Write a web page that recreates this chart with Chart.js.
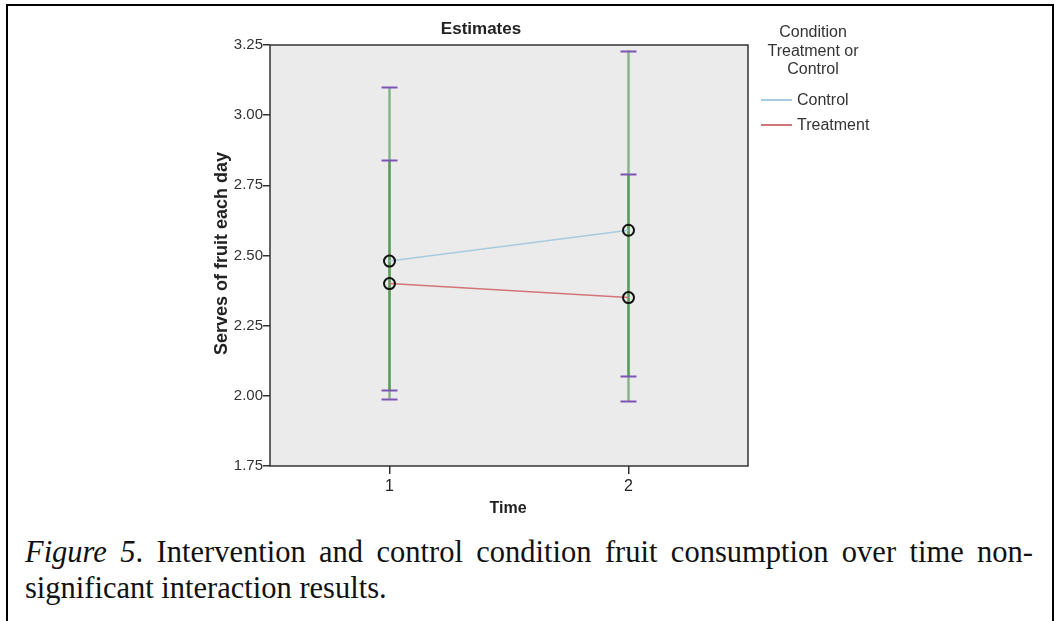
<!DOCTYPE html>
<html>
<head>
<meta charset="utf-8">
<title>Estimates</title>
<script src="https://cdn.jsdelivr.net/npm/chart.js@4/dist/chart.umd.min.js"></script>
<style>
  html, body { margin: 0; padding: 0; background: #fff; }
  body { width: 1058px; height: 621px; position: relative; overflow: hidden; }
  .frame {
    position: absolute; left: 6px; top: 4px; width: 1048px; height: 640px;
    border: 2px solid #000; box-sizing: border-box;
  }
  #chart { position: absolute; left: 0; top: 0; }
  .caption {
    position: absolute; left: 25px;
    font-family: 'Liberation Serif', 'Times New Roman', serif;
    font-size: 30.5px; line-height: 36px; color: #111; white-space: nowrap;
  }
  .caption.first { top: 534px; width: 1008px; text-align: justify; text-align-last: justify; }
  .caption.second { top: 570px; }
</style>
</head>
<body>
<div class="frame"></div>
<canvas id="chart" width="1058" height="520"></canvas>
<div class="caption first"><i>Figure 5</i>. Intervention and control condition fruit consumption over time non-</div>
<div class="caption second">significant interaction results.</div>

<script>
'use strict';

/* ---- data: estimated marginal means with 95% CI ---- */
const TIMES = [1, 2];
const SERIES_NAMES = ['Control', 'Treatment'];
const CONTROL_MEAN = [2.48, 2.59];
const CONTROL_LOW = [1.99, 1.98];
const CONTROL_HIGH = [3.10, 3.23];
const TREATMENT_MEAN = [2.40, 2.35];
const TREATMENT_LOW = [2.02, 2.07];
const TREATMENT_HIGH = [2.84, 2.79];
const Y_TICKS = [1.75, 2.00, 2.25, 2.50, 2.75, 3.00, 3.25];

const FONT = "'Liberation Sans', Arial, sans-serif";
const PLOT_BG = '#ebebeb';
const INK = '#222';
const CI_GREEN = 'rgba(40,130,40,0.5)';
const CAP_PURPLE = '#7d55b5';

const toPoints = means => TIMES.map((t, i) => ({ x: t, y: means[i] }));

// plot background + frame
const plotFrame = {
  id: 'plotFrame',
  beforeDraw(chart) {
    const { ctx, chartArea: a } = chart;
    ctx.save();
    ctx.fillStyle = PLOT_BG;
    ctx.fillRect(a.left, a.top, a.right - a.left, a.bottom - a.top);
    ctx.restore();
  },
  afterDraw(chart) {
    const { ctx, chartArea: a } = chart;
    ctx.save();
    ctx.strokeStyle = '#333';
    ctx.lineWidth = 1.5;
    ctx.strokeRect(a.left, a.top, a.right - a.left, a.bottom - a.top);
    ctx.restore();
  },
};

// confidence interval whiskers, behind lines and markers
const errorBars = {
  id: 'errorBars',
  beforeDatasetsDraw(chart) {
    const { ctx, scales: { x, y } } = chart;
    const bounds = [[CONTROL_LOW, CONTROL_HIGH], [TREATMENT_LOW, TREATMENT_HIGH]];
    ctx.save();
    bounds.forEach(([lo, hi]) => {
      TIMES.forEach((t, i) => {
        const px = x.getPixelForValue(t);
        ctx.strokeStyle = CI_GREEN;
        ctx.lineWidth = 2.5;
        ctx.beginPath();
        ctx.moveTo(px, y.getPixelForValue(lo[i]));
        ctx.lineTo(px, y.getPixelForValue(hi[i]));
        ctx.stroke();
      });
    });
    bounds.forEach(([lo, hi]) => {
      TIMES.forEach((t, i) => {
        const px = x.getPixelForValue(t);
        ctx.strokeStyle = CAP_PURPLE;
        ctx.lineWidth = 2;
        [lo[i], hi[i]].forEach(v => {
          const py = Math.round(y.getPixelForValue(v)) + 0.5;
          ctx.beginPath();
          ctx.moveTo(px - 8, py);
          ctx.lineTo(px + 8, py);
          ctx.stroke();
        });
      });
    });
    ctx.restore();
  },
};

// chart title, axis titles and the legend block on the right
const labels = {
  id: 'labels',
  afterDraw(chart) {
    const { ctx, chartArea: a } = chart;
    ctx.save();
    ctx.fillStyle = INK;
    ctx.textBaseline = 'middle';
    ctx.textAlign = 'center';

    ctx.font = `bold 17px ${FONT}`;
    ctx.fillText('Estimates', 481, 29);

    ctx.font = `bold 16px ${FONT}`;
    ctx.fillText('Time', 508, 509);

    ctx.save();
    ctx.translate(222, (a.top + a.bottom) / 2 - 2);
    ctx.rotate(-Math.PI / 2);
    ctx.font = `bold 18px ${FONT}`;
    ctx.fillText('Serves of fruit each day', 0, 0);
    ctx.restore();

    ctx.font = `16px ${FONT}`;
    ctx.fillStyle = '#333';
    ['Condition', 'Treatment or', 'Control'].forEach((line, i) => {
      ctx.fillText(line, 813, 33 + i * 18.5);
    });

    ctx.textAlign = 'left';
    chart.data.datasets.forEach((ds, i) => {
      const ly = 100 + i * 25;
      ctx.strokeStyle = ds.borderColor;
      ctx.lineWidth = 2;
      ctx.beginPath();
      ctx.moveTo(761, ly);
      ctx.lineTo(792, ly);
      ctx.stroke();
      ctx.fillStyle = '#333';
      ctx.fillText(ds.label, 797, ly + 1);
    });
    ctx.restore();
  },
};

new Chart(document.getElementById('chart'), {
  type: 'line',
  data: {
    datasets: [
      {
        label: SERIES_NAMES[0],
        data: toPoints(CONTROL_MEAN),
        borderColor: '#a9cbe0',
        borderWidth: 1.5,
        pointRadius: 5.5,
        pointBorderWidth: 2,
        pointBorderColor: '#111',
        pointBackgroundColor: 'rgba(0,0,0,0)',
      },
      {
        label: SERIES_NAMES[1],
        data: toPoints(TREATMENT_MEAN),
        borderColor: '#d27478',
        borderWidth: 1.5,
        pointRadius: 5.5,
        pointBorderWidth: 2,
        pointBorderColor: '#111',
        pointBackgroundColor: 'rgba(0,0,0,0)',
      },
    ],
  },
  options: {
    responsive: false,
    animation: false,
    events: [],
    layout: { padding: { left: 0, right: 310, top: 45, bottom: 0 } },
    plugins: { legend: { display: false }, title: { display: false }, tooltip: { enabled: false } },
    scales: {
      x: {
        type: 'linear',
        min: 0.5,
        max: 2.5,
        afterBuildTicks: s => { s.ticks = TIMES.map(v => ({ value: v })); },
        afterFit: s => { s.height = 54; },
        ticks: { color: INK, font: { family: FONT, size: 16 }, padding: 3, maxRotation: 0 },
        grid: { drawOnChartArea: false, drawTicks: true, tickLength: 8, color: '#333', lineWidth: 1.5 },
        border: { display: false },
      },
      y: {
        min: 1.75,
        max: 3.25,
        afterBuildTicks: s => { s.ticks = Y_TICKS.map(v => ({ value: v })); },
        afterFit: s => { s.width = 270; },
        ticks: {
          color: '#333',
          font: { family: FONT, size: 15 },
          padding: 0,
          callback: v => v.toFixed(2),
        },
        grid: { drawOnChartArea: false, drawTicks: true, tickLength: 7, color: '#333', lineWidth: 1.5 },
        border: { display: false },
      },
    },
  },
  plugins: [plotFrame, errorBars, labels],
});
</script>
</body>
</html>
